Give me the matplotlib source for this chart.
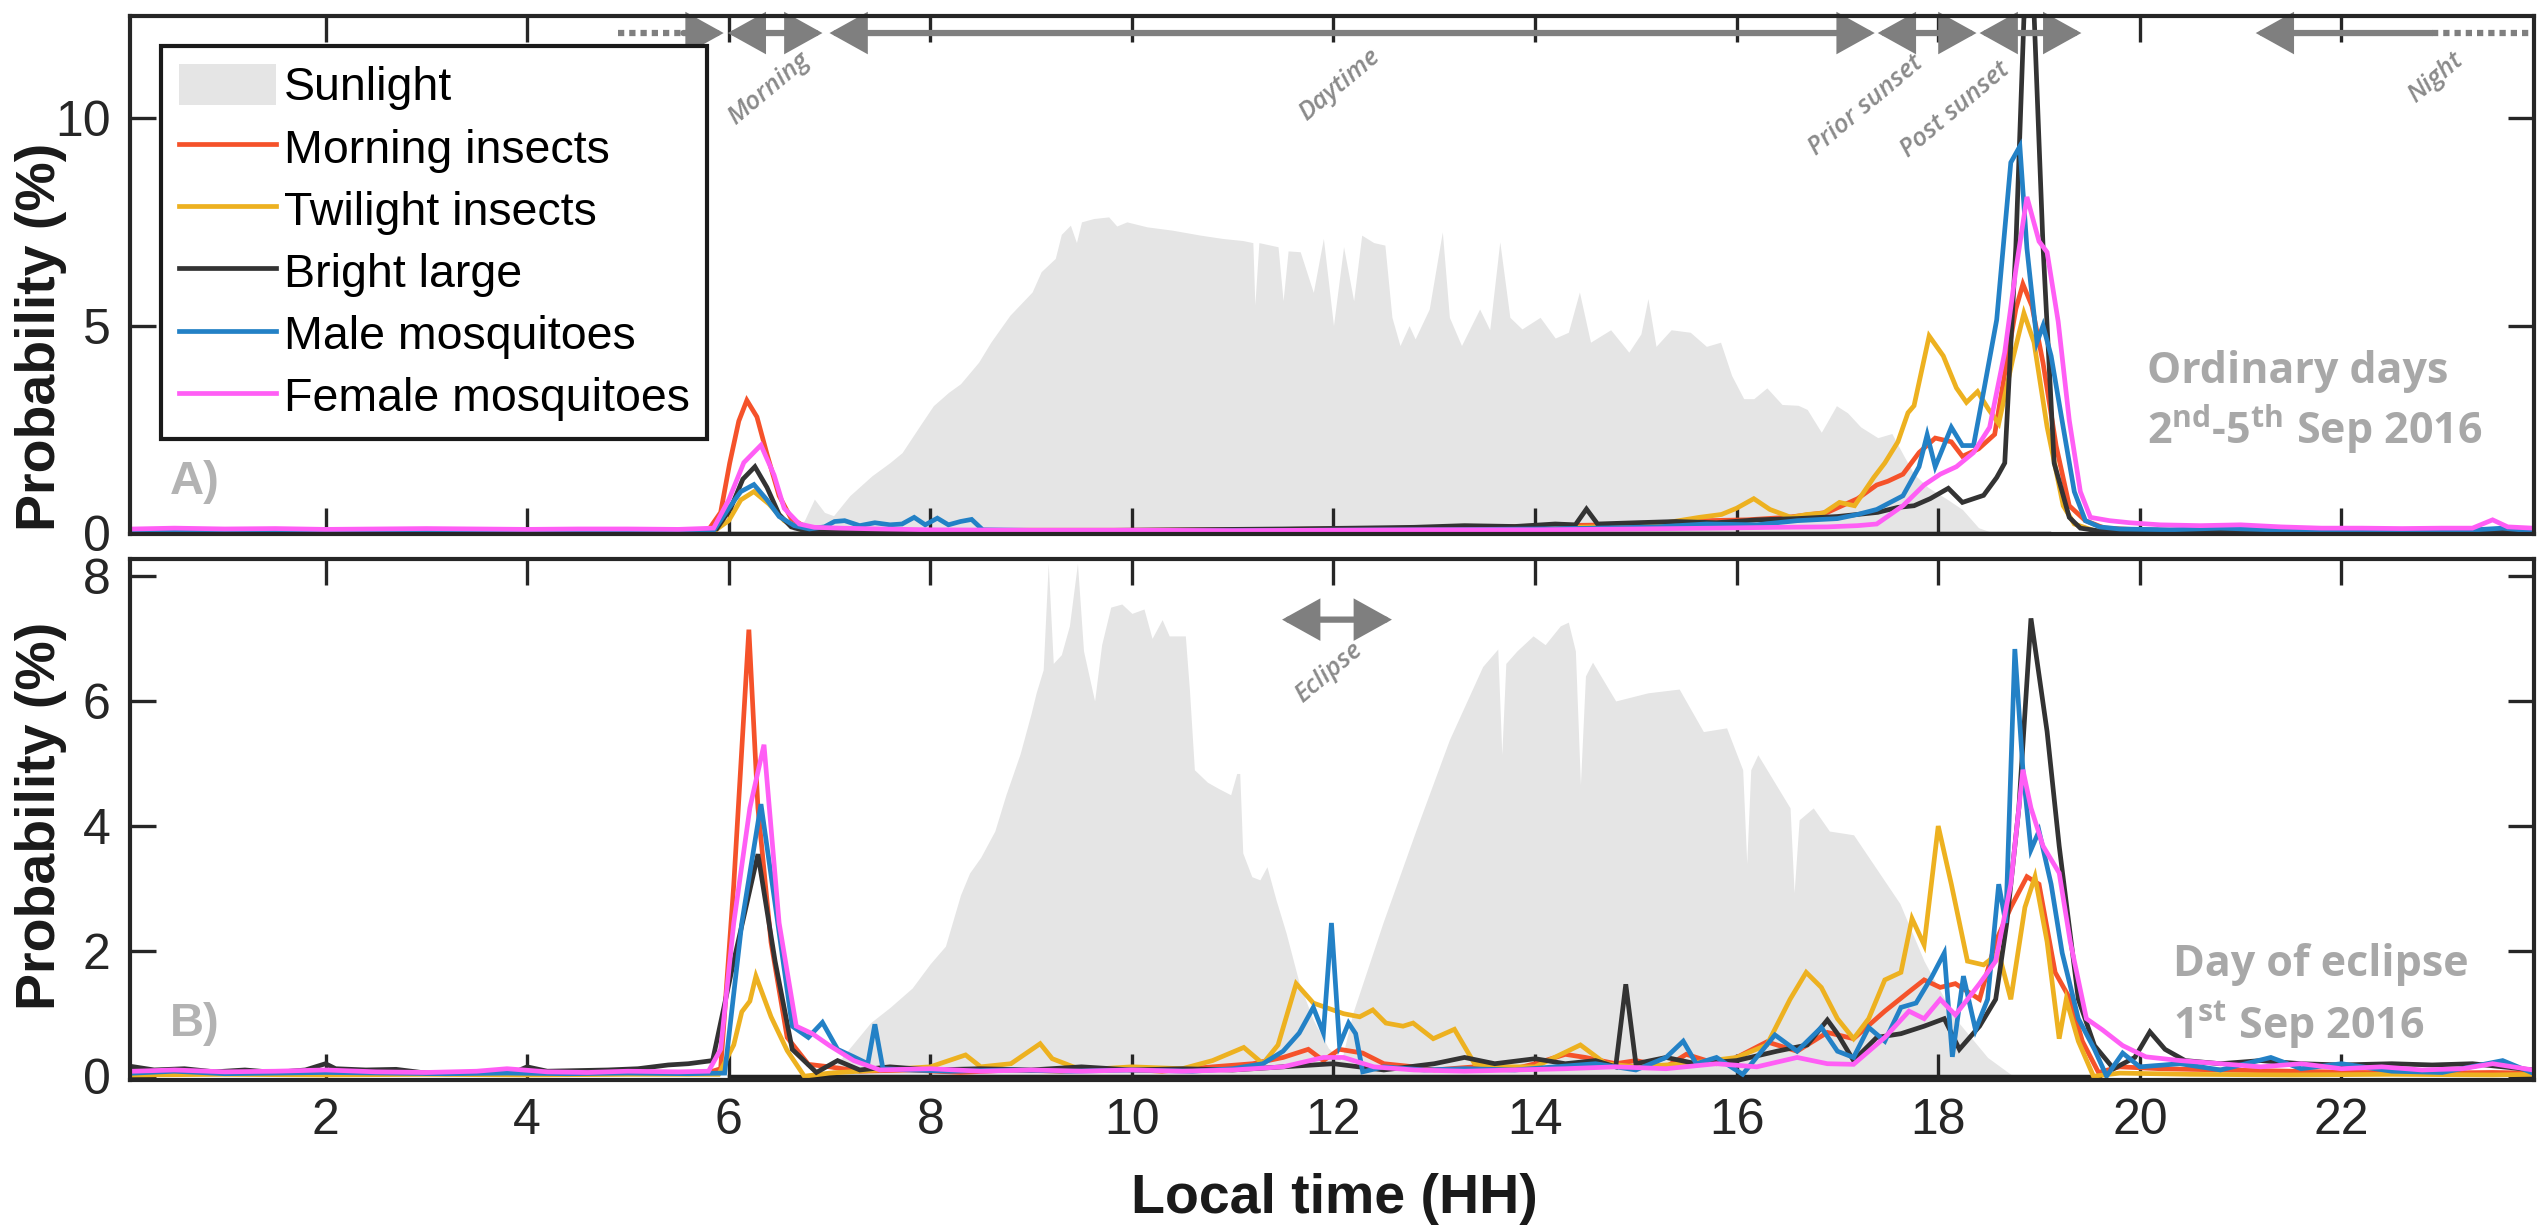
import matplotlib
matplotlib.use('Agg')
import matplotlib.pyplot as plt
from matplotlib.patches import Patch
from matplotlib.lines import Line2D

plt.rcParams['font.family'] = ['Liberation Sans', 'DejaVu Sans']
plt.rcParams['mathtext.fontset'] = 'custom'
plt.rcParams['mathtext.rm'] = 'Open Sans:bold'
plt.rcParams['mathtext.it'] = 'Open Sans:bold'
plt.rcParams['mathtext.bf'] = 'Open Sans:bold'

# ---------------- data (hour, value) ----------------
SERIES_NAMES = ['Morning insects', 'Twilight insects', 'Bright large', 'Male mosquitoes', 'Female mosquitoes']
COLORS = ['#F5522A', '#EDB120', '#333333', '#2381C6', '#FF5EF5']

# Panel A: ordinary days
SUN_A = [(5.85,0),(6.6,0),(6.75,0.3),(6.85,0.82),(6.95,0.5),(7.04,0.42),(7.2,0.9),(7.42,1.38),(7.6,1.7),(7.72,1.94),
         (7.9,2.6),(8.03,3.07),(8.18,3.39),(8.3,3.6),(8.48,4.12),(8.6,4.6),(8.79,5.25),(9.01,5.81),(9.1,6.3),(9.24,6.62),
         (9.3,7.2),(9.39,7.42),(9.45,7.0),(9.5,7.5),(9.62,7.58),(9.77,7.62),(9.85,7.4),(9.95,7.5),(10.15,7.38),(10.4,7.3),
         (10.68,7.18),(10.9,7.1),(11.1,7.05),(11.2,7.0),(11.22,5.5),(11.26,7.0),(11.45,6.9),(11.5,5.6),(11.55,6.8),(11.67,6.78),
         (11.8,5.8),(11.9,7.1),(12.0,5.0),(12.1,6.9),(12.2,5.6),(12.28,7.18),(12.4,7.0),(12.51,6.94),(12.58,5.2),(12.66,4.52),
         (12.75,5.0),(12.81,4.68),(12.95,5.4),(13.08,7.26),(13.15,5.2),(13.27,4.52),(13.45,5.4),(13.55,4.9),(13.65,7.02),(13.75,5.2),
         (13.87,4.92),(14.05,5.2),(14.2,4.7),(14.33,4.84),(14.44,5.81),(14.55,4.6),(14.75,4.9),(14.93,4.36),(15.05,4.8),(15.12,5.65),
         (15.2,4.5),(15.35,4.9),(15.54,4.84),(15.7,4.5),(15.84,4.6),(15.95,3.8),(16.07,3.24),(16.17,3.24),(16.3,3.5),(16.45,3.1),
         (16.61,3.08),(16.7,2.98),(16.84,2.43),(16.99,3.07),(17.1,2.9),(17.23,2.56),(17.4,2.3),(17.54,2.4),(17.65,1.9),(17.76,1.42),
         (17.9,1.1),(18.08,0.83),(18.24,0.57),(18.4,0.13),(18.55,0.0),(19.1,0.0)]

A_RED = [(0.1,0.05),(0.6,0.07),(1.2,0.05),(1.8,0.06),(2.4,0.05),(3.0,0.06),(3.6,0.05),(4.2,0.05),(4.8,0.06),(5.4,0.05),
         (5.8,0.08),(5.92,0.5),(6.01,1.69),(6.1,2.7),(6.18,3.2),(6.28,2.8),(6.38,1.9),(6.5,0.9),(6.62,0.35),(6.78,0.12),
         (7.0,0.08),(7.6,0.07),(8.3,0.06),(9.0,0.07),(10.0,0.07),(11.0,0.08),(12.0,0.1),(12.8,0.12),(13.5,0.14),(14.2,0.18),
         (14.8,0.2),(15.3,0.25),(15.7,0.3),(16.1,0.32),(16.5,0.38),(16.9,0.5),(17.2,0.83),(17.39,1.16),(17.5,1.25),(17.65,1.42),
         (17.81,1.94),(17.97,2.29),(18.13,2.2),(18.24,1.85),(18.4,2.03),(18.56,2.38),(18.66,3.85),(18.77,5.4),(18.84,6.0),(18.93,5.47),
         (19.04,4.1),(19.17,2.1),(19.3,0.66),(19.46,0.3),(19.65,0.12),(20.0,0.08),(20.6,0.06),(21.2,0.07),(21.8,0.06),(22.4,0.06),
         (23.0,0.07),(23.5,0.08),(23.9,0.06)]
A_YEL = [(0.1,0.03),(1.0,0.04),(2.0,0.03),(3.0,0.04),(4.0,0.03),(5.0,0.04),(5.85,0.04),(6.0,0.3),(6.12,0.8),(6.25,1.0),
         (6.4,0.7),(6.55,0.3),(6.7,0.1),(6.9,0.04),(7.5,0.05),(8.5,0.05),(9.5,0.06),(10.5,0.06),(11.5,0.07),(12.5,0.08),
         (13.3,0.1),(14.0,0.12),(14.6,0.15),(15.0,0.2),(15.3,0.25),(15.63,0.38),(15.85,0.45),(16.0,0.6),(16.17,0.83),(16.33,0.57),
         (16.54,0.38),(16.7,0.45),(16.86,0.48),(17.02,0.74),(17.17,0.66),(17.36,1.34),(17.47,1.69),(17.6,2.2),(17.7,2.9),(17.76,3.07),
         (17.91,4.75),(18.05,4.27),(18.18,3.5),(18.28,3.15),(18.39,3.41),(18.5,2.98),(18.6,2.64),(18.74,4.2),(18.85,5.3),(18.95,4.6),
         (19.08,2.56),(19.24,0.66),(19.35,0.22),(19.56,0.05),(20.0,0.03),(21.0,0.04),(22.0,0.03),(23.0,0.04),(23.9,0.03)]
A_BLK = [(0.1,0.06),(0.7,0.05),(1.4,0.07),(2.1,0.05),(2.8,0.06),(3.5,0.05),(4.2,0.06),(4.9,0.05),(5.6,0.06),(5.88,0.1),
         (6.02,0.6),(6.14,1.3),(6.26,1.6),(6.38,1.1),(6.5,0.45),(6.62,0.15),(6.78,0.04),(7.0,0.03),(7.5,0.04),(8.5,0.05),
         (9.5,0.06),(10.5,0.08),(11.5,0.1),(12.2,0.12),(12.8,0.14),(13.3,0.18),(13.8,0.16),(14.2,0.22),(14.4,0.2),(14.51,0.58),
         (14.62,0.22),(15.0,0.25),(15.4,0.28),(15.8,0.25),(16.2,0.32),(16.6,0.35),(17.0,0.4),(17.4,0.5),(17.6,0.62),(17.76,0.66),
         (17.92,0.83),(18.1,1.08),(18.24,0.74),(18.45,0.91),(18.58,1.34),(18.66,1.69),(18.77,6.9),(18.85,12.4),(18.94,13.2),(19.04,6.9),
         (19.15,1.69),(19.3,0.38),(19.41,0.12),(19.6,0.05),(20.2,0.06),(21.0,0.05),(21.8,0.06),(22.6,0.05),(23.3,0.06),(23.9,0.05)]
A_BLU = [(0.1,0.04),(0.8,0.05),(1.5,0.04),(2.2,0.05),(3.0,0.04),(3.8,0.05),(4.6,0.04),(5.4,0.05),(5.85,0.06),(6.0,0.6),
         (6.12,1.0),(6.25,1.17),(6.38,0.8),(6.5,0.4),(6.65,0.18),(6.8,0.1),(6.95,0.15),(7.05,0.28),(7.15,0.3),(7.3,0.18),
         (7.45,0.25),(7.6,0.2),(7.72,0.22),(7.84,0.38),(7.95,0.2),(8.07,0.36),(8.18,0.2),(8.3,0.28),(8.41,0.33),(8.52,0.08),
         (9.2,0.06),(10.0,0.05),(11.0,0.06),(12.0,0.07),(13.0,0.08),(14.0,0.1),(14.6,0.12),(15.2,0.15),(15.7,0.22),(16.2,0.2),
         (16.6,0.3),(17.0,0.35),(17.2,0.45),(17.39,0.57),(17.65,0.9),(17.81,1.6),(17.89,2.37),(17.97,1.6),(18.13,2.55),(18.24,2.11),
         (18.35,2.11),(18.45,3.41),(18.58,5.14),(18.72,8.93),(18.81,9.32),(18.88,6.86),(18.98,4.6),(19.04,5.0),(19.12,4.27),(19.24,2.55),
         (19.35,1.0),(19.46,0.3),(19.6,0.15),(19.8,0.1),(20.3,0.08),(20.8,0.12),(21.3,0.08),(22.0,0.06),(22.6,0.07),(23.2,0.06),
         (23.6,0.12),(23.9,0.05)]
A_MAG = [(0.1,0.1),(0.5,0.12),(1.0,0.1),(1.5,0.11),(2.0,0.09),(2.5,0.1),(3.0,0.11),(3.5,0.1),(4.0,0.09),(4.5,0.1),
         (5.0,0.1),(5.5,0.09),(5.85,0.12),(6.0,0.8),(6.15,1.7),(6.32,2.12),(6.45,1.4),(6.55,0.6),(6.7,0.22),(6.85,0.14),
         (7.1,0.12),(7.5,0.1),(8.0,0.08),(9.0,0.07),(10.0,0.07),(11.0,0.06),(12.0,0.07),(13.0,0.08),(14.0,0.08),(15.0,0.1),
         (15.8,0.12),(16.4,0.14),(16.9,0.15),(17.2,0.18),(17.39,0.22),(17.65,0.66),(17.86,1.16),(18.02,1.42),(18.18,1.6),(18.35,1.94),
         (18.51,2.55),(18.66,4.36),(18.77,6.34),(18.88,8.1),(19.0,7.03),(19.08,6.77),(19.19,5.1),(19.3,2.72),(19.41,1.0),(19.51,0.38),
         (19.7,0.3),(19.9,0.25),(20.2,0.2),(20.6,0.18),(21.0,0.2),(21.4,0.15),(21.8,0.12),(22.2,0.12),(22.6,0.11),(23.0,0.12),
         (23.3,0.12),(23.5,0.32),(23.65,0.15),(23.9,0.12)]

# Panel B: day of eclipse
SUN_B = [(6.0,0),(6.9,0),(7.0,0.05),(7.2,0.45),(7.41,0.86),(7.6,1.1),(7.82,1.41),(8.0,1.8),(8.15,2.08),(8.3,2.9),(8.39,3.25),
         (8.5,3.5),(8.64,3.92),(8.75,4.5),(8.89,5.15),(9.0,5.8),(9.05,6.13),(9.12,6.5),(9.17,8.2),(9.22,6.6),(9.3,6.74),
         (9.38,7.2),(9.46,8.2),(9.52,6.8),(9.63,6.0),(9.7,6.9),(9.79,7.5),(9.9,7.55),(10.0,7.4),(10.12,7.47),(10.2,7.0),
         (10.3,7.3),(10.37,7.04),(10.53,7.04),(10.57,6.2),(10.62,4.9),(10.75,4.7),(10.86,4.6),(10.98,4.5),(11.04,4.84),(11.07,4.84),
         (11.1,3.57),(11.19,3.19),(11.27,3.14),(11.34,3.35),(11.43,2.82),(11.53,2.29),(11.66,1.49),(11.8,0.9),(11.95,0.45),(12.08,0.25),
         (12.19,1.0),(12.49,2.45),(12.82,3.94),(13.15,5.38),(13.48,6.55),(13.63,6.83),(13.67,5.14),(13.71,6.6),(13.82,6.8),(13.98,7.04),
         (14.1,6.9),(14.25,7.2),(14.33,7.26),(14.4,6.8),(14.45,4.66),(14.5,6.4),(14.57,6.62),(14.8,6.0),(15.12,6.13),(15.43,6.19),
         (15.67,5.51),(15.9,5.57),(16.06,4.9),(16.1,3.4),(16.14,4.9),(16.21,5.14),(16.53,4.29),(16.57,2.93),(16.62,4.1),(16.76,4.29),
         (16.92,3.92),(17.16,3.86),(17.39,3.31),(17.62,2.76),(17.86,1.84),(18.17,0.92),(18.49,0.3),(18.72,0.03),(18.9,0.0),(19.6,0.0)]

B_RED = [(0.1,0.05),(0.6,0.04),(1.2,0.06),(1.8,0.05),(2.4,0.04),(3.0,0.05),(3.6,0.04),(4.2,0.05),(4.8,0.04),(5.4,0.05),
         (5.8,0.06),(5.92,0.12),(6.05,3.06),(6.2,7.14),(6.29,4.29),(6.42,2.14),(6.58,0.62),(6.79,0.19),(7.0,0.15),(7.3,0.08),
         (7.8,0.1),(8.3,0.06),(8.8,0.1),(9.3,0.08),(9.8,0.12),(10.3,0.08),(10.8,0.15),(11.2,0.2),(11.5,0.3),(11.75,0.43),
         (11.9,0.25),(12.06,0.43),(12.29,0.37),(12.5,0.2),(12.8,0.15),(13.0,0.1),(13.4,0.15),(13.8,0.12),(14.0,0.2),(14.3,0.35),
         (14.5,0.3),(14.8,0.2),(15.0,0.25),(15.3,0.15),(15.5,0.35),(15.8,0.2),(16.0,0.3),(16.3,0.55),(16.6,0.4),(16.9,0.7),
         (17.16,0.6),(17.47,1.04),(17.71,1.35),(17.86,1.54),(18.02,1.42),(18.17,1.48),(18.41,1.23),(18.57,2.15),(18.72,2.7),(18.88,3.19),
         (19.0,3.07),(19.16,1.66),(19.31,1.23),(19.43,0.56),(19.59,0.06),(19.8,0.15),(20.2,0.12),(20.8,0.1),(21.5,0.08),(22.2,0.06),
         (22.9,0.05),(23.5,0.06),(23.9,0.05)]
B_YEL = [(0.1,0.02),(1.0,0.03),(2.0,0.02),(3.0,0.03),(4.0,0.02),(5.0,0.03),(5.9,0.03),(6.05,0.5),(6.13,1.03),(6.21,1.2),
         (6.27,1.6),(6.42,0.95),(6.58,0.41),(6.75,0.0),(7.0,0.05),(7.5,0.1),(8.0,0.15),(8.35,0.34),(8.5,0.15),(8.8,0.2),
         (9.09,0.52),(9.21,0.28),(9.5,0.1),(10.0,0.15),(10.5,0.12),(10.8,0.25),(11.11,0.46),(11.3,0.2),(11.45,0.5),(11.63,1.48),
         (11.8,1.17),(12.1,1.0),(12.26,0.95),(12.39,1.06),(12.52,0.85),(12.69,0.8),(12.79,0.85),(12.99,0.6),(13.2,0.75),(13.4,0.2),
         (13.6,0.15),(14.0,0.15),(14.45,0.5),(14.7,0.2),(15.0,0.15),(15.5,0.2),(16.0,0.3),(16.3,0.5),(16.53,1.23),(16.69,1.66),
         (16.84,1.42),(17.0,0.92),(17.16,0.6),(17.31,0.92),(17.47,1.54),(17.63,1.66),(17.74,2.52),(17.86,2.1),(18.0,4.0),(18.13,3.07),
         (18.29,1.84),(18.45,1.78),(18.6,1.97),(18.72,1.23),(18.86,2.7),(18.96,3.19),(19.08,2.15),(19.2,0.6),(19.27,1.23),(19.39,0.56),
         (19.54,0.0),(19.8,0.05),(20.5,0.03),(21.5,0.02),(22.5,0.03),(23.5,0.02),(23.9,0.03)]
B_BLK = [(0.1,0.15),(0.3,0.1),(0.6,0.12),(0.9,0.07),(1.2,0.1),(1.5,0.06),(1.8,0.1),(2.0,0.2),(2.1,0.12),(2.4,0.1),
         (2.7,0.11),(3.0,0.05),(3.3,0.05),(3.6,0.07),(3.9,0.08),(4.0,0.15),(4.2,0.08),(4.5,0.09),(4.8,0.1),(5.1,0.12),
         (5.4,0.18),(5.6,0.2),(5.84,0.25),(6.05,1.84),(6.29,3.55),(6.46,1.84),(6.63,0.43),(6.87,0.06),(7.08,0.25),(7.3,0.1),
         (7.6,0.15),(8.0,0.1),(8.5,0.12),(9.0,0.1),(9.5,0.15),(10.0,0.1),(10.5,0.12),(11.0,0.1),(11.5,0.15),(12.0,0.2),
         (12.5,0.1),(13.0,0.2),(13.3,0.3),(13.6,0.2),(14.0,0.28),(14.3,0.2),(14.6,0.25),(14.8,0.15),(14.9,1.47),(15.0,0.2),
         (15.3,0.3),(15.6,0.2),(16.0,0.25),(16.4,0.4),(16.7,0.5),(16.9,0.9),(17.0,0.68),(17.16,0.25),(17.39,0.62),(17.63,0.68),
         (17.86,0.8),(18.06,0.92),(18.21,0.43),(18.41,0.8),(18.57,1.23),(18.68,2.45),(18.8,4.29),(18.92,7.32),(19.08,5.51),(19.2,3.68),
         (19.39,1.23),(19.55,0.49),(19.74,0.12),(19.95,0.3),(20.1,0.71),(20.25,0.43),(20.45,0.25),(20.8,0.2),(21.2,0.25),(21.6,0.2),
         (22.0,0.18),(22.5,0.2),(22.9,0.18),(23.3,0.2),(23.6,0.15),(23.9,0.1)]
B_BLU = [(0.1,0.05),(0.5,0.08),(1.0,0.04),(1.5,0.05),(2.0,0.06),(2.6,0.05),(3.2,0.04),(3.8,0.05),(4.4,0.04),(5.0,0.05),
         (5.6,0.04),(5.96,0.05),(6.13,2.45),(6.32,4.35),(6.46,2.76),(6.63,0.8),(6.79,0.62),(6.93,0.86),(7.08,0.43),(7.24,0.31),
         (7.38,0.2),(7.45,0.83),(7.53,0.12),(7.8,0.1),(8.2,0.08),(8.8,0.1),(9.4,0.08),(10.0,0.1),(10.6,0.08),(11.0,0.12),
         (11.3,0.2),(11.5,0.4),(11.66,0.69),(11.8,1.1),(11.9,0.69),(11.98,2.45),(12.06,0.5),(12.15,0.85),(12.22,0.68),(12.29,0.07),
         (12.5,0.15),(12.9,0.1),(13.3,0.12),(13.8,0.1),(14.2,0.15),(14.6,0.2),(15.0,0.1),(15.3,0.3),(15.47,0.56),(15.6,0.2),
         (15.8,0.3),(16.06,0.03),(16.38,0.66),(16.6,0.4),(16.84,0.78),(17.0,0.4),(17.16,0.3),(17.31,0.78),(17.47,0.56),(17.63,1.1),
         (17.78,1.17),(17.94,1.6),(18.06,1.97),(18.14,0.31),(18.25,1.6),(18.37,0.74),(18.49,1.23),(18.6,3.07),(18.67,2.45),(18.76,6.83),
         (18.84,4.9),(18.92,3.62),(19.0,3.92),(19.12,3.07),(19.23,1.97),(19.39,0.92),(19.55,0.43),(19.67,0.0),(19.83,0.37),(20.0,0.15),
         (20.4,0.2),(20.8,0.1),(21.3,0.3),(21.6,0.12),(22.0,0.2),(22.5,0.08),(23.0,0.06),(23.6,0.25),(23.9,0.05)]
B_MAG = [(0.1,0.08),(0.5,0.1),(1.0,0.07),(1.5,0.08),(2.0,0.1),(2.5,0.07),(3.0,0.06),(3.5,0.08),(3.8,0.12),(4.2,0.07),
         (4.6,0.06),(5.0,0.08),(5.5,0.07),(5.8,0.08),(5.92,0.43),(6.05,2.45),(6.21,4.29),(6.35,5.3),(6.5,2.45),(6.67,0.8),
         (6.83,0.68),(7.0,0.49),(7.24,0.25),(7.5,0.1),(8.0,0.12),(8.5,0.08),(9.0,0.1),(9.5,0.08),(10.0,0.1),(10.5,0.08),
         (11.0,0.1),(11.5,0.15),(11.9,0.3),(12.1,0.3),(12.4,0.15),(12.8,0.1),(13.3,0.08),(13.8,0.1),(14.3,0.12),(14.8,0.15),
         (15.3,0.12),(15.8,0.2),(16.2,0.15),(16.6,0.3),(16.9,0.2),(17.16,0.19),(17.47,0.62),(17.71,1.04),(17.86,0.92),(18.02,1.23),
         (18.17,0.98),(18.41,1.48),(18.57,1.84),(18.72,3.07),(18.84,4.9),(18.92,4.29),(19.04,3.68),(19.2,3.25),(19.31,2.15),(19.47,0.92),
         (19.63,0.74),(19.83,0.49),(20.06,0.31),(20.4,0.25),(20.8,0.2),(21.2,0.15),(21.6,0.2),(22.0,0.12),(22.4,0.15),(22.8,0.1),
         (23.2,0.12),(23.5,0.2),(23.9,0.1)]

X_TICKS = [2, 4, 6, 8, 10, 12, 14, 16, 18, 20, 22]
Y_TICKS_A = [0, 5, 10]
Y_TICKS_B = [0, 2, 4, 6, 8]

# period annotations: (label, start, end)
PERIODS_A = [('Morning', 5.99, 6.93), ('Daytime', 7.0, 17.37), ('Prior sunset', 17.4, 18.38),
             ('Post sunset', 18.41, 19.42)]
PERIOD_LABELS_A = [('Morning', 6.4, 10.7), ('Daytime', 12.06, 10.8), ('Prior sunset', 17.28, 10.3),
                   ('Post sunset', 18.17, 10.2), ('Night', 22.93, 10.97)]

# ---------------- figure ----------------
fig = plt.figure(figsize=(25.39, 12.32), dpi=100)
axA = fig.add_axes([0.0512, 0.5666, 0.9468, 0.4204])
axB = fig.add_axes([0.0512, 0.1234, 0.9468, 0.4229])

SUN_COLOR = '#E5E5E5'
GRAY_ARROW = '#7F7F7F'
GRAY_TEXT = '#A8A8A8'


def unzip(pairs):
    return [p[0] for p in pairs], [p[1] for p in pairs]


def draw_panel(ax, sun, series):
    sx, sy = unzip(sun)
    ax.fill_between(sx, 0, sy, color=SUN_COLOR, lw=0, zorder=1)
    ax.plot([sx[0], sx[-1]], [0, 0], color='#222222', lw=2.5, zorder=1.5)
    for s, c in zip(series, COLORS):
        x, y = unzip(s)
        ax.plot(x, y, color=c, lw=3.4, zorder=2, solid_joinstyle='miter')
    ax.set_xlim(0.06, 23.91)
    ax.set_xticks(X_TICKS)
    ax.tick_params(direction='in', length=19, width=2.4, top=True, right=True,
                   labelsize=36, colors='#262626', pad=14)
    for sp in ax.spines.values():
        sp.set_linewidth(3)
        sp.set_color('#262626')
        sp.set_zorder(5)


draw_panel(axA, SUN_A, [A_RED, A_YEL, A_BLK, A_BLU, A_MAG])
draw_panel(axB, SUN_B, [B_RED, B_YEL, B_BLK, B_BLU, B_MAG])

axA.set_ylim(-0.02, 12.46)
axA.set_yticks(Y_TICKS_A)
axA.tick_params(labelbottom=False)
axB.set_ylim(-0.06, 8.27)
axB.set_yticks(Y_TICKS_B)
axB.tick_params(axis='x', pad=13)

lab_kw = dict(fontsize=40, fontweight='bold', color='#1A1A1A')
axA.set_ylabel('Probability (%)', **lab_kw)
axA.yaxis.set_label_coords(-0.0262, 0.38)
axB.set_ylabel('Probability (%)', **lab_kw)
axB.yaxis.set_label_coords(-0.0262, 0.507)
axB.set_xlabel('Local time (HH)', **lab_kw)
axB.xaxis.set_label_coords(0.501, -0.178)

# legend
handles = [Patch(facecolor=SUN_COLOR, edgecolor='none', label='Sunlight')]
handles += [Line2D([], [], color=c, lw=3.4, label=n) for c, n in zip(COLORS, SERIES_NAMES)]
leg = axA.legend(handles=handles, loc='upper left', bbox_to_anchor=(0.0129, 0.942), borderaxespad=0,
                 fontsize=33.5, frameon=True, fancybox=False, framealpha=1, edgecolor='#1A1A1A',
                 handlelength=2.1, handletextpad=0.16, labelspacing=0.33, borderpad=0.38, handleheight=1.0)
leg.get_frame().set_linewidth(3)
leg.set_zorder(6)

# panel tags
axA.text(0.027, 0.1, 'A)', transform=axA.transAxes, fontsize=34, fontweight='bold', color='#B3B3B3',
         ha='center', va='center')
axB.text(0.027, 0.107, 'B)', transform=axB.transAxes, fontsize=34, fontweight='bold', color='#B3B3B3',
         ha='center', va='center')

info_kw = dict(fontsize=31, fontweight='bold', family=['Open Sans', 'DejaVu Sans'], color=GRAY_TEXT,
               ha='left', va='center')
axA.text(20.07, 3.9, 'Ordinary days', **info_kw)
axA.text(20.07, 2.5, r'2$^{\mathrm{nd}}$-5$^{\mathrm{th}}$ Sep 2016', **info_kw)
axB.text(20.33, 1.78, 'Day of eclipse', **info_kw)
axB.text(20.33, 0.81, r'1$^{\mathrm{st}}$ Sep 2016', **info_kw)

# period arrows
arrow_y = 12.05
ap = dict(arrowstyle='<|-|>,head_length=0.9,head_width=0.5', mutation_scale=23, lw=4.5,
          color=GRAY_ARROW, shrinkA=0, shrinkB=0, joinstyle='miter')
for name, x0, x1 in PERIODS_A:
    axA.annotate('', xy=(x1, arrow_y), xytext=(x0, arrow_y), arrowprops=ap, annotation_clip=False)
ap1 = dict(ap, arrowstyle='-|>,head_length=0.9,head_width=0.5')
axA.plot([4.9, 5.62], [arrow_y, arrow_y], color=GRAY_ARROW, lw=4.5, ls=(0, (1.0, 0.8)), solid_capstyle='butt')
axA.annotate('', xy=(5.95, arrow_y), xytext=(5.55, arrow_y), arrowprops=ap1)
axA.annotate('', xy=(21.15, arrow_y), xytext=(22.9, arrow_y), arrowprops=ap1)
axA.plot([22.9, 23.9], [arrow_y, arrow_y], color=GRAY_ARROW, lw=4.5, ls=(0, (1.0, 0.8)))

per_kw = dict(fontsize=18.5, style='italic', fontweight='semibold', family=['Open Sans', 'DejaVu Sans'],
              color='#8A8A8A', rotation=40, ha='center', va='center', rotation_mode='anchor')
for name, xc, yc in PERIOD_LABELS_A:
    axA.text(xc, yc, name, **per_kw)

axB.annotate('', xy=(12.58, 7.3), xytext=(11.49, 7.3), arrowprops=ap)
axB.text(11.95, 6.45, 'Eclipse', **per_kw)

fig.savefig('out.png', dpi=100)
